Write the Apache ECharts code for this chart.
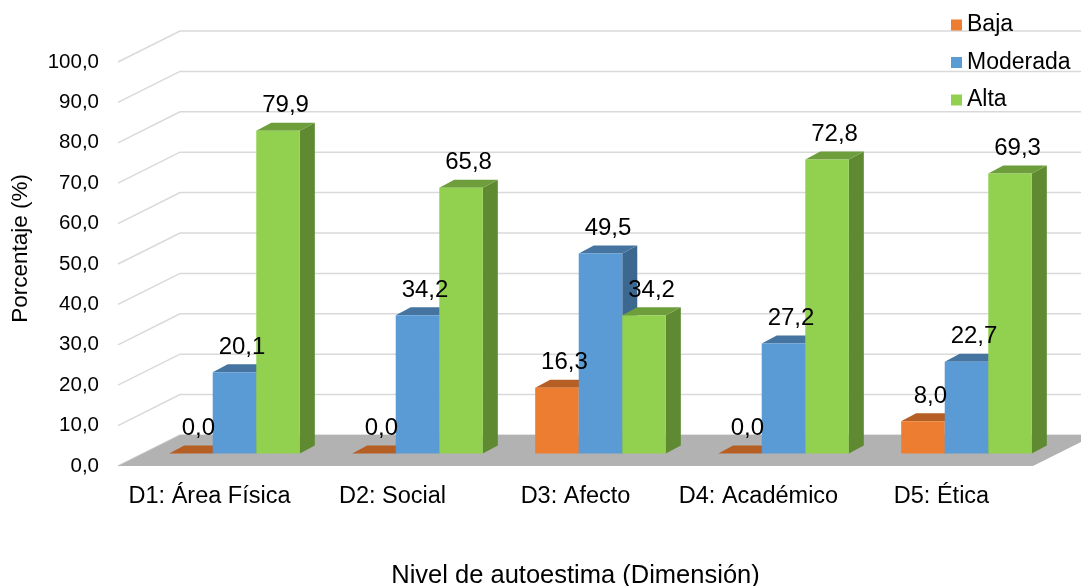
<!DOCTYPE html>
<html>
<head>
<meta charset="utf-8">
<script src="https://cdn.jsdelivr.net/npm/echarts@6/dist/echarts.min.js"></script>
<style>
  html, body { margin: 0; padding: 0; background: #fff; }
  #chart { width: 1081px; height: 586px; }
</style>
</head>
<body>
<div id="chart"></div>
<script>
var categorias = ['D1: Área Física', 'D2: Social', 'D3: Afecto', 'D4: Académico', 'D5: Ética']; //dimensiones
var baja = [0.0, 0.0, 16.3, 0.0, 8.0];
var moderada = [20.1, 34.2, 49.5, 27.2, 22.7];
var alta = [79.9, 65.8, 34.2, 72.8, 69.3];
var ticksY = [0, 10, 20, 30, 40, 50, 60, 70, 80, 90, 100];

var FUENTE = 'Liberation Sans, Arial, sans-serif';
var PROF = [62, -31];      //profundidad del suelo
var FRENTE = [25, -12.5];  //cara frontal de las barras
var FONDO = [15, -8];      //profundidad de cada barra

var colores = [
  { cara: '#ED7D31', tapa: '#B65F24', lado: '#A8561F' },
  { cara: '#5B9BD5', tapa: '#44749F', lado: '#3C6890' },
  { cara: '#92D050', tapa: '#6E9E3C', lado: '#5F8A32' }
];

function coma(v) { return v.toFixed(1).replace('.', ','); }

function pares(arr) { return arr.map(function (v, i) { return [i, v]; }); }

function barra(idx) {
  return function (params, api) {
    var cat = api.value(0), v = api.value(1);
    var base = api.coord([cat, 0]);
    var arriba = api.coord([cat, v]);
    var banda = api.size([1, 0])[0];
    var bw = banda * 0.238;
    var cx = base[0] + FRENTE[0];
    var x0 = cx - bw * 1.5 + idx * bw, x1 = x0 + bw;
    var yb = base[1] + FRENTE[1], yt = arriba[1] + FRENTE[1];
    var c = colores[idx];
    var dx = FONDO[0], dy = FONDO[1];
    return {
      type: 'group',
      children: [
        { type: 'polygon', shape: { points: [[x1, yb], [x1 + dx, yb + dy], [x1 + dx, yt + dy], [x1, yt]] }, style: { fill: c.lado } },
        { type: 'polygon', shape: { points: [[x0, yt], [x1, yt], [x1 + dx, yt + dy], [x0 + dx, yt + dy]] }, style: { fill: c.tapa } },
        { type: 'rect', shape: { x: x0, y: yt, width: bw, height: yb - yt }, style: { fill: c.cara } },
        { type: 'text', z2: 100, style: { text: coma(v), x: (x0 + x1) / 2 + dx / 2, y: yt - 25, align: 'center', verticalAlign: 'middle', fill: '#000', font: '24px ' + FUENTE } }
      ]
    };
  };
}

var chart = echarts.init(document.getElementById('chart'));
chart.setOption({
  animation: false,
  grid: { left: 118, right: 48, top: 62, bottom: 120, outerBoundsMode: 'none', containLabel: false },
  legend: {
    data: ['Baja', 'Moderada', 'Alta'],
    orient: 'vertical', left: 946, top: 8,
    icon: 'rect', itemWidth: 11, itemHeight: 11, itemGap: 13.5,
    textStyle: { fontFamily: FUENTE, fontSize: 23, color: '#000', lineHeight: 24 }
  },
  graphic: [{
    type: 'text', left: 9, top: 174, rotation: Math.PI / 2,
    style: { text: 'Porcentaje (%)', font: '22.5px ' + FUENTE, fill: '#000' }
  }],
  xAxis: {
    type: 'category', data: categorias,
    axisLine: { show: false }, axisTick: { show: false },
    axisLabel: { interval: 0, margin: 19, fontFamily: FUENTE, fontSize: 23.5, color: '#000' },
    name: 'Nivel de autoestima (Dimensión)', nameLocation: 'middle', nameGap: 97,
    nameTextStyle: { fontFamily: FUENTE, fontSize: 25.5, color: '#000' }
  },
  yAxis: {
    type: 'value', min: 0, max: 100, interval: 10,
    axisLine: { show: false }, axisTick: { show: false }, splitLine: { show: false },
    axisLabel: { margin: 19, fontFamily: FUENTE, fontSize: 20.5, color: '#000', formatter: function (v) { return coma(v); } }
  },
  series: [
    {
      type: 'custom', z: 1, silent: true,
      data: ticksY.map(function (t) { return [0, t]; }),
      renderItem: function (params, api) {
        var sys = params.coordSys;
        var y = api.coord([0, api.value(1)])[1];
        return {
          type: 'polyline',
          shape: { points: [[sys.x, y], [sys.x + PROF[0], y + PROF[1]], [1081, y + PROF[1]]] },
          style: { stroke: '#D9D9D9', lineWidth: 1.5, fill: null }
        };
      }
    },
    {
      type: 'custom', z: 2, silent: true,
      data: [[0, 0]],
      renderItem: function (params, api) {
        var sys = params.coordSys;
        var y = sys.y + sys.height;
        var xa = sys.x, xb = sys.x + sys.width;
        return {
          type: 'polygon',
          shape: { points: [[xa, y], [xb, y], [xb + PROF[0], y + PROF[1]], [xa + PROF[0], y + PROF[1]]] },
          style: { fill: '#B2B2B2' }
        };
      }
    },
    { name: 'Baja', type: 'custom', z: 3, data: pares(baja), itemStyle: { color: colores[0].cara }, encode: { x: 0, y: 1 }, renderItem: barra(0) },
    { name: 'Moderada', type: 'custom', z: 3, data: pares(moderada), itemStyle: { color: colores[1].cara }, encode: { x: 0, y: 1 }, renderItem: barra(1) },
    { name: 'Alta', type: 'custom', z: 3, data: pares(alta), itemStyle: { color: colores[2].cara }, encode: { x: 0, y: 1 }, renderItem: barra(2) }
  ]
});
</script>
</body>
</html>
